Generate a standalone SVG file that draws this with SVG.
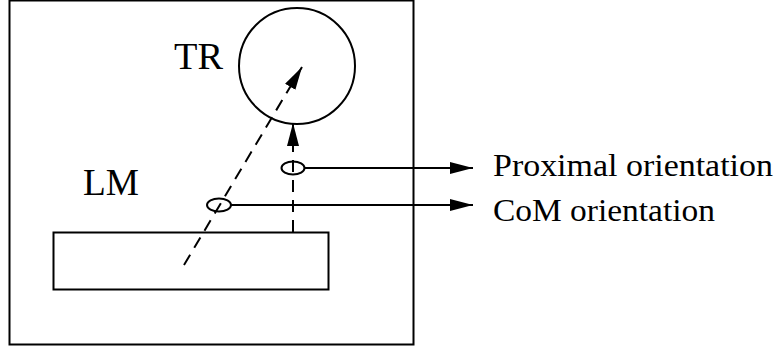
<svg xmlns="http://www.w3.org/2000/svg" width="778" height="347" viewBox="0 0 778 347">
<style>
.s{fill:none;stroke:#000;stroke-width:2}
.d{fill:none;stroke:#000;stroke-width:2;stroke-dasharray:12 8}
.t{font-family:"Liberation Serif","DejaVu Serif",serif;fill:#000}
</style>
<defs>
<marker id="ah" markerUnits="userSpaceOnUse" markerWidth="26" markerHeight="14" refX="23" refY="6" orient="auto">
<path d="M0,0 L23,6 L0,12 z" fill="#000"/>
</marker>
</defs>
<rect width="778" height="347" fill="#fff"/>
<g id="frame"><rect class="s" x="9.5" y="0.5" width="404" height="344"/></g>
<g id="TR">
<circle class="s" cx="297" cy="66" r="58"/>
<text class="t" x="174" y="69" font-size="37" textLength="49" lengthAdjust="spacingAndGlyphs">TR</text>
</g>
<g id="LM">
<rect class="s" x="53.5" y="232.5" width="275" height="57"/>
<text class="t" x="83" y="195" font-size="37" textLength="56" lengthAdjust="spacingAndGlyphs">LM</text>
</g>
<g id="connectors">
<line class="d" x1="184" y1="265" x2="302" y2="67" marker-end="url(#ah)"/>
<line class="d" x1="293" y1="232" x2="293" y2="123" marker-end="url(#ah)"/>
<ellipse class="s" cx="219" cy="205" rx="12" ry="6.5"/>
<ellipse class="s" cx="293" cy="168" rx="11.5" ry="6.5"/>
<line class="s" x1="305" y1="168" x2="473" y2="168" marker-end="url(#ah)"/>
<line class="s" x1="231" y1="205" x2="473" y2="205" marker-end="url(#ah)"/>
</g>
<g id="labels">
<text class="t" x="493" y="176" font-size="31" textLength="280" lengthAdjust="spacingAndGlyphs">Proximal orientation</text>
<text class="t" x="493" y="221" font-size="31" textLength="222" lengthAdjust="spacingAndGlyphs">CoM orientation</text>
</g>
</svg>
